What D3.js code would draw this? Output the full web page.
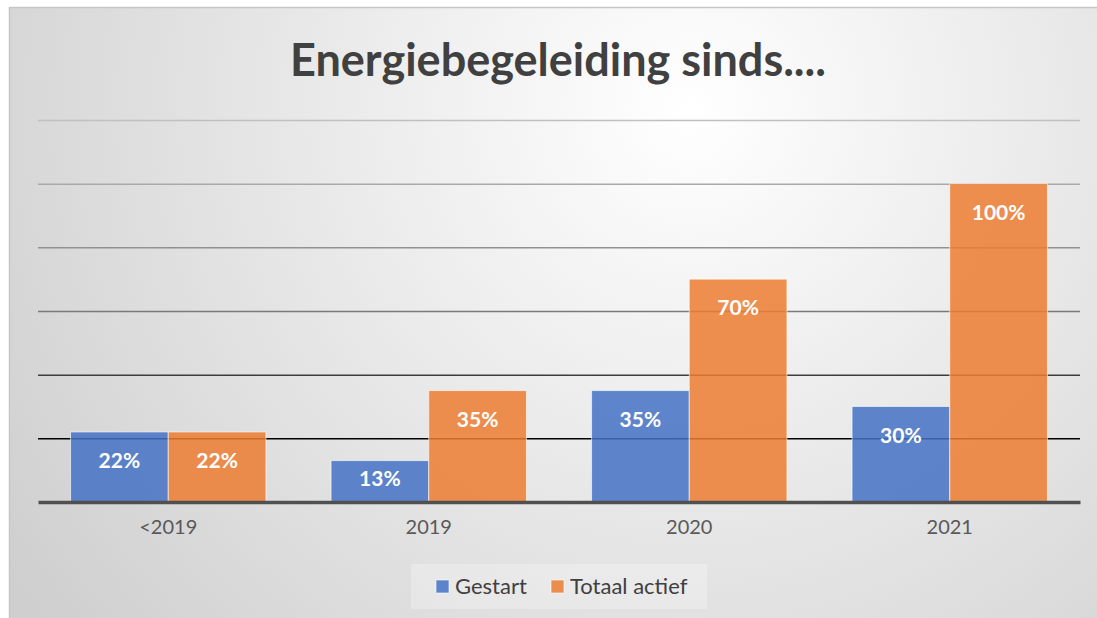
<!DOCTYPE html>
<html>
<head>
<meta charset="utf-8">
<script src="https://cdn.jsdelivr.net/npm/d3@7"></script>
<style>
  body { margin: 0; background: #fff; }
  svg { display: block; font-family: Lato, "Open Sans", sans-serif; }
</style>
</head>
<body>
<div id="chart"></div>
<script>
// data
var categories = ["<2019", "2019", "2020", "2021"];
var gestart = [22, 13, 35, 30];
var totaalActief = [22, 35, 70, 100];
var seriesNames = ["Gestart", "Totaal actief"];
var gridTicks = [20, 40, 60, 80, 100, 120];

var W = 1097, H = 618;
var margin = {top: 120, right: 17, bottom: 116, left: 38};
var width = W - margin.left - margin.right;
var height = H - margin.top - margin.bottom;

var colors = ["#4472C4", "#ED7D31"];

var svg = d3.select("#chart").append("svg")
    .attr("width", W)
    .attr("height", H);

// background gradient
var defs = svg.append("defs");
var bg = defs.append("radialGradient")
    .attr("id", "bg")
    .attr("gradientUnits", "userSpaceOnUse")
    .attr("cx", 690).attr("cy", 110).attr("r", 820);
bg.append("stop").attr("offset", "0%").attr("stop-color", "#ffffff");
bg.append("stop").attr("offset", "100%").attr("stop-color", "#cfcfcf");

svg.append("rect")
    .attr("x", 9.5).attr("y", 7.5)
    .attr("width", W).attr("height", H)
    .attr("fill", "url(#bg)")
    .attr("stroke", "#c6c6c6")
    .attr("stroke-width", 1.5);

// title
svg.append("text")
    .attr("x", 558).attr("y", 76)
    .attr("text-anchor", "middle")
    .attr("font-size", 45)
    .attr("font-weight", "bold")
    .attr("fill", "#404040")
    .text("Energiebegeleiding sinds....");

var g = svg.append("g")
    .attr("transform", "translate(" + margin.left + "," + margin.top + ")");

var x0 = d3.scaleBand().domain(categories).range([0, width]).paddingInner(0.25).paddingOuter(0.125);
var x1 = d3.scaleBand().domain(seriesNames).range([0, x0.bandwidth()]);
var y = d3.scaleLinear().domain([0, 120]).range([height, 0]);

// gridlines, darker towards the bottom
var gridColor = d3.scaleLinear().domain([20, 60, 120]).range(["#000000", "#7a7a7a", "#c0c0c0"]);
var grid = g.append("g")
    .call(d3.axisLeft(y).tickValues(gridTicks).tickSize(-width).tickFormat(""));
grid.select(".domain").remove();
grid.selectAll(".tick line")
    .attr("stroke", function(d) { return gridColor(d); })
    .attr("stroke-width", 1.5);

// bars
var rows = categories.map(function(c, i) {
  return {cat: c, values: [
    {name: seriesNames[0], v: gestart[i], c: colors[0]},
    {name: seriesNames[1], v: totaalActief[i], c: colors[1]}
  ]};
});

var groups = g.selectAll(".grp").data(rows).enter().append("g")
    .attr("transform", function(d) { return "translate(" + x0(d.cat) + ",0)"; });

groups.selectAll("rect").data(function(d) { return d.values; }).enter().append("rect")
    .attr("x", function(d) { return x1(d.name); })
    .attr("y", function(d) { return y(d.v); })
    .attr("width", x1.bandwidth())
    .attr("height", function(d) { return height - y(d.v); })
    .attr("fill", function(d) { return d.c; })
    .attr("fill-opacity", 0.85)
    .attr("stroke", "#ffffff")
    .attr("stroke-opacity", 0.6)
    .attr("stroke-width", 1);

// labels inside end, pulled up on short bars
groups.selectAll("text").data(function(d) { return d.values; }).enter().append("text")
    .attr("x", function(d) { return x1(d.name) + x1.bandwidth() / 2; })
    .attr("y", function(d) {
      var h = height - y(d.v);
      return y(d.v) + Math.min(36, h / 2 + 5);
    })
    .attr("text-anchor", "middle")
    .attr("font-size", 21)
    .attr("font-weight", "bold")
    .attr("fill", "#ffffff")
    .text(function(d) { return d.v + "%"; });

// x axis
var xAxis = g.append("g")
    .attr("transform", "translate(0," + height + ")")
    .call(d3.axisBottom(x0).tickSize(0).tickPadding(18));
xAxis.select(".domain").attr("stroke", "#505050").attr("stroke-width", 3.5);
xAxis.selectAll(".tick text")
    .attr("font-size", 20)
    .attr("font-family", "Lato, sans-serif")
    .attr("fill", "#595959");

// legend
var legend = svg.append("g");
legend.append("rect")
    .attr("x", 411).attr("y", 564)
    .attr("width", 296).attr("height", 45)
    .attr("fill", "#ffffff").attr("fill-opacity", 0.25);

var legX = [436, 551];
seriesNames.forEach(function(n, i) {
  legend.append("rect")
      .attr("x", legX[i]).attr("y", 580)
      .attr("width", 13).attr("height", 13)
      .attr("fill", colors[i]).attr("fill-opacity", 0.85)
      .attr("stroke", "#ffffff").attr("stroke-opacity", 0.6);
  legend.append("text")
      .attr("x", legX[i] + 19).attr("y", 594)
      .attr("font-size", 22)
      .attr("fill", "#404040")
      .text(n);
});
</script>
</body>
</html>
